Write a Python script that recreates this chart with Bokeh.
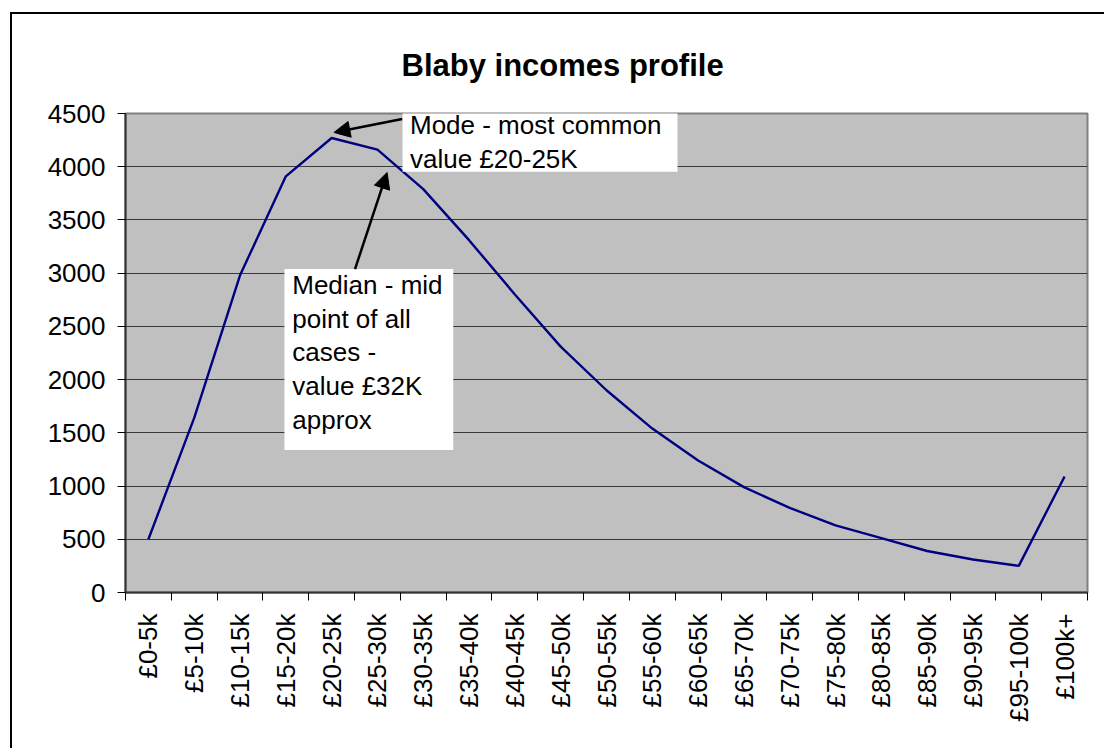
import math
from bokeh.plotting import figure
from bokeh.models import Range1d, FixedTicker, BoxAnnotation, Label, Arrow, NormalHead
from bokeh.embed import file_html
from bokeh.resources import INLINE

categories = ["£0-5k", "£5-10k", "£10-15k", "£15-20k", "£20-25k", "£25-30k", "£30-35k",
              "£35-40k", "£40-45k", "£45-50k", "£50-55k", "£55-60k", "£60-65k", "£65-70k",
              "£70-75k", "£75-80k", "£80-85k", "£85-90k", "£90-95k", "£95-100k", "£100k+"]
counts = [500, 1640, 2980, 3910, 4270, 4160, 3790, 3310, 2800, 2310, 1900, 1540,
          1240, 990, 795, 630, 510, 390, 310, 250, 1090]
y_ticks = [0, 500, 1000, 1500, 2000, 2500, 3000, 3500, 4000, 4500]

title_text = "Blaby incomes profile"
mode_note = "Mode - most common\nvalue £20-25K"
median_note = "Median - mid\npoint of all\ncases -\nvalue £32K\napprox"

FONT = "Liberation Sans"
n = len(categories)
centers = [i + 0.5 for i in range(n)]
bounds = list(range(n + 1))

p = figure(frame_width=962, frame_height=479,
           x_range=Range1d(0, n), y_range=Range1d(0, 4500),
           output_backend="svg", toolbar_location=None,
           min_border_left=113, min_border_right=17, min_border_top=99, min_border_bottom=156,
           background_fill_color="#C0C0C0", border_fill_color="white",
           outline_line_color="#808080", outline_line_width=2)
p.margin = (12, 0, 0, 10)
p.styles = {"border-left": "2px solid black", "border-top": "2px solid black"}

p.title.text = title_text
p.title.align = "left"
p.title.offset = 276
p.title.standoff = 62
p.title.text_font = FONT
p.title.text_font_size = "31px"
p.title.text_font_style = "bold"
p.title.text_color = "black"

# x axis
xa = p.xaxis[0]
xa.ticker = FixedTicker(ticks=centers, minor_ticks=bounds)
xa.major_label_overrides = {c: cat for c, cat in zip(centers, categories)}
xa.major_tick_out = 0
xa.major_tick_in = 0
xa.minor_tick_out = 8
xa.minor_tick_in = 0
xa.minor_tick_line_color = "black"
xa.minor_tick_line_width = 1
xa.major_label_orientation = math.pi / 2
xa.major_label_standoff = 13
xa.major_label_text_font = FONT
xa.major_label_text_font_size = "26px"
xa.major_label_text_color = "black"
xa.axis_line_color = "#333333"
xa.axis_line_width = 2

# y axis
ya = p.yaxis[0]
ya.ticker = FixedTicker(ticks=y_ticks)
ya.major_tick_out = 8
ya.major_tick_in = 0
ya.minor_tick_out = 0
ya.minor_tick_in = 0
ya.major_tick_line_color = "black"
ya.major_label_standoff = 12
ya.major_label_text_font = FONT
ya.major_label_text_font_size = "26px"
ya.major_label_text_color = "black"
ya.axis_line_color = "#333333"
ya.axis_line_width = 2

p.xgrid.visible = False
p.ygrid.ticker = FixedTicker(ticks=y_ticks)
p.ygrid.grid_line_color = "#3a3a3a"
p.ygrid.grid_line_width = 1

p.line(centers, counts, line_color="#000080", line_width=2.4)

# mode note
p.add_layout(BoxAnnotation(left=6.048, right=12.05, top=4544, bottom=3952,
                           fill_color="white", fill_alpha=1, line_alpha=0))
p.add_layout(Label(x=6.21, y=4230, text=mode_note, text_align="left", text_baseline="middle",
                   text_font=FONT, text_font_size="26px", text_color="black", text_line_height=1.13))
p.add_layout(Arrow(end=NormalHead(size=16, fill_color="black", line_color="black"),
                   x_start=6.04, y_start=4448, x_end=4.55, y_end=4322,
                   line_color="black", line_width=2.5))

# median note
p.add_layout(BoxAnnotation(left=3.47, right=7.155, top=3038, bottom=1338,
                           fill_color="white", fill_alpha=1, line_alpha=0))
p.add_layout(Label(x=3.64, y=2255, text=median_note, text_align="left", text_baseline="middle",
                   text_font=FONT, text_font_size="26px", text_color="black", text_line_height=1.12))
p.add_layout(Arrow(end=NormalHead(size=16, fill_color="black", line_color="black"),
                   x_start=5.01, y_start=3038, x_end=5.71, y_end=3946,
                   line_color="black", line_width=2.5))

open("out.html", "w").write(file_html(p, INLINE))
